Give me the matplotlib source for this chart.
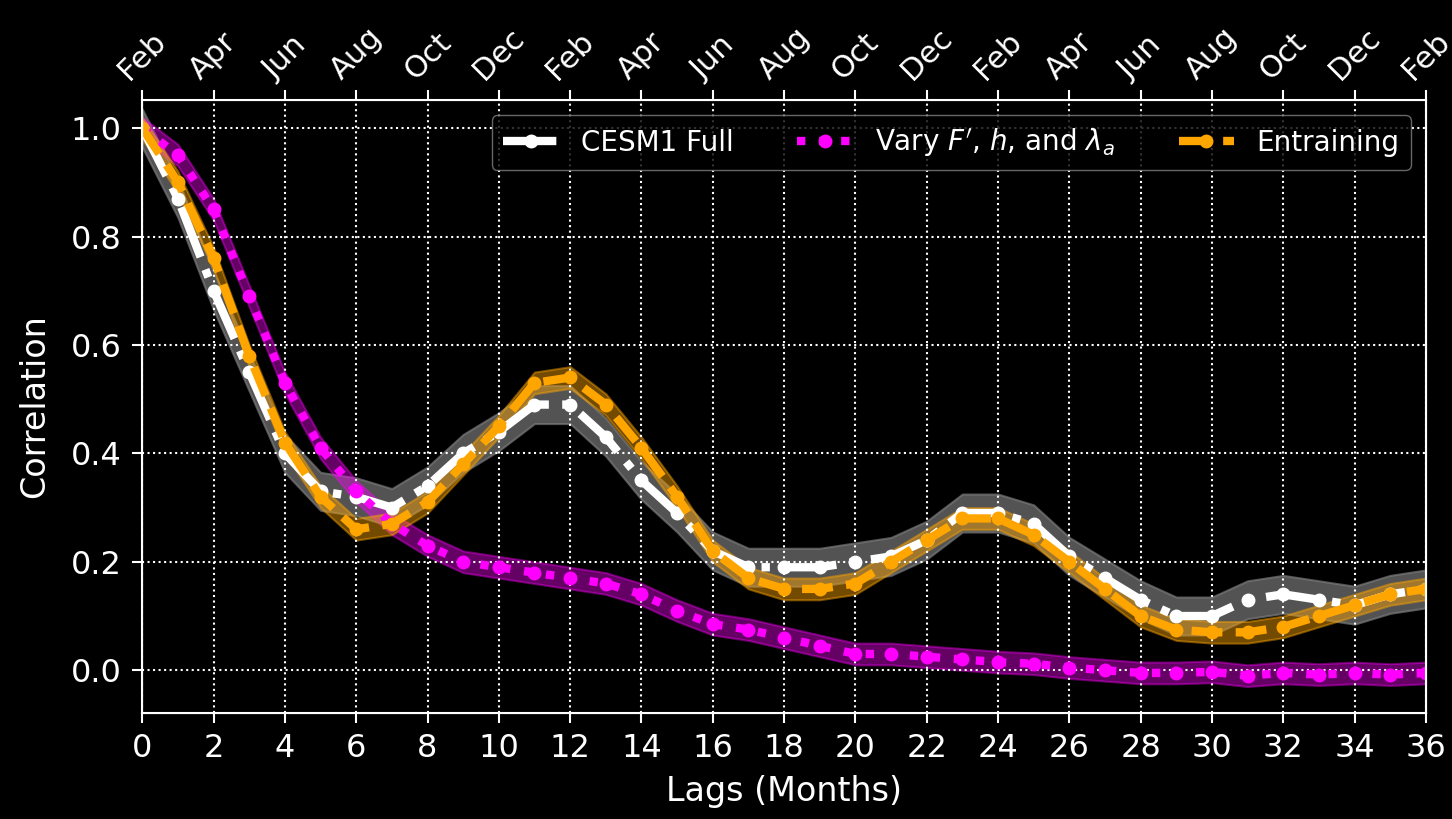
import numpy as np
import matplotlib
matplotlib.use("Agg")
from matplotlib import pyplot as plt

plt.style.use("dark_background")

lags = np.arange(0, 37)

# autocorrelation of each run
cesm_full = [1.00, 0.87, 0.70, 0.55, 0.40, 0.33, 0.32, 0.30, 0.34, 0.40,
             0.44, 0.49, 0.49, 0.43, 0.35, 0.29, 0.22, 0.19, 0.19, 0.19,
             0.20, 0.21, 0.24, 0.29, 0.29, 0.27, 0.21, 0.17, 0.13, 0.10,
             0.10, 0.13, 0.14, 0.13, 0.12, 0.14, 0.15]
vary_all = [1.00, 0.95, 0.85, 0.69, 0.53, 0.41, 0.33, 0.27, 0.23, 0.20,
            0.19, 0.18, 0.17, 0.16, 0.14, 0.11, 0.085, 0.075, 0.06, 0.045,
            0.03, 0.03, 0.025, 0.02, 0.015, 0.012, 0.005, 0.0, -0.005, -0.005,
            -0.003, -0.01, -0.005, -0.008, -0.005, -0.008, -0.005]
entraining = [1.00, 0.90, 0.76, 0.58, 0.42, 0.32, 0.26, 0.27, 0.31, 0.38,
              0.45, 0.53, 0.54, 0.49, 0.41, 0.32, 0.22, 0.17, 0.15, 0.15,
              0.16, 0.20, 0.24, 0.28, 0.28, 0.25, 0.20, 0.15, 0.10, 0.075,
              0.07, 0.07, 0.08, 0.10, 0.12, 0.14, 0.15]

# half-widths of the confidence bands
cesm_spread = 0.035
vary_spread = 0.02
entrain_spread = 0.02

mons = ["Feb", "Apr", "Jun", "Aug", "Oct", "Dec"]
xtk = np.arange(0, 37, 2)
mon_labels = [mons[i % 6] for i in range(len(xtk))]

fig = plt.figure(figsize=(14.52, 8.19), dpi=100)
ax = fig.add_axes([0.098, 0.13, 0.884, 0.748])

series = [
    (cesm_full, cesm_spread, "w", "-.", "CESM1 Full", "gray", 0.65),
    (vary_all, vary_spread, "magenta", ":", "Vary $F'$, $h$, and $\\lambda_a$", "magenta", 0.4),
    (entraining, entrain_spread, "orange", "--", "Entraining", "orange", 0.45),
]
for vals, spread, col, ls, lab, bandcol, alph in series:
    vals = np.array(vals)
    ax.plot(lags, vals, color=col, ls=ls, lw=6, marker="o", markersize=9, label=lab)
    ax.fill_between(lags, vals - spread, vals + spread, color=bandcol, alpha=alph, lw=1.5)

ax.set_xlim(0, 36)
ax.set_ylim(-0.078, 1.052)
ax.set_xticks(xtk)
ax.set_yticks(np.arange(0, 1.01, 0.2))
ax.tick_params(labelsize=23, width=1.5, length=7, pad=8)
for sp in ax.spines.values():
    sp.set_linewidth(1.5)
ax.grid(True, ls=":", lw=1.5, color="w")
ax.set_xlabel("Lags (Months)", fontsize=24, labelpad=8)
ax.set_ylabel("Correlation", fontsize=24, labelpad=14)

ax.legend(loc="upper right", ncol=3, fontsize=20, framealpha=0.8,
          edgecolor="gray", facecolor="black", handlelength=2.0,
          columnspacing=2.3, borderaxespad=0.55)

# month of each lag on the top axis
ax2 = ax.twiny()
ax2.set_xlim(ax.get_xlim())
ax2.set_xticks(xtk)
ax2.set_xticklabels(mon_labels, rotation=45, fontsize=22)
ax2.tick_params(width=1.5, length=7)

fig.savefig("out.png", dpi=100)
